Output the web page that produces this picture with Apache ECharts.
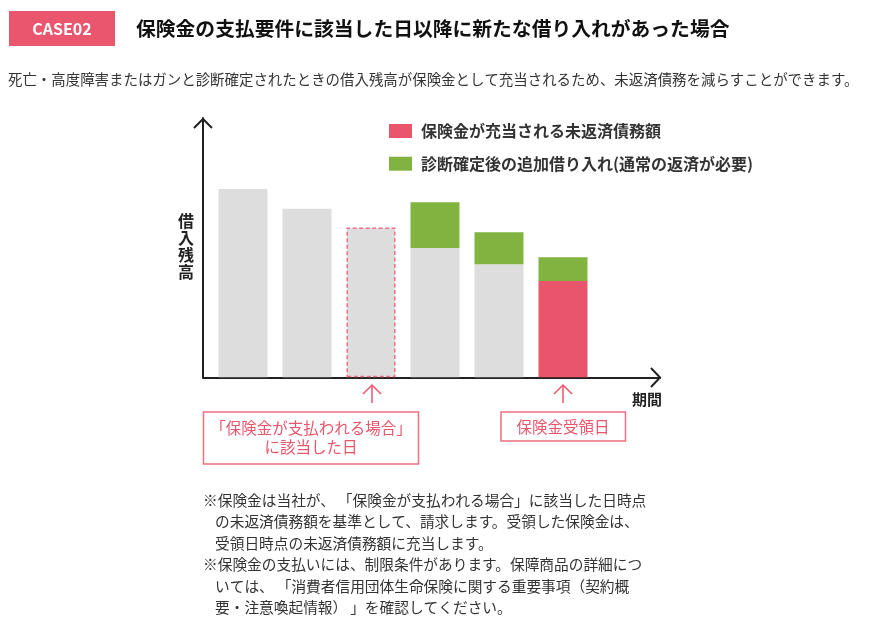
<!DOCTYPE html>
<html><head><meta charset="utf-8">
<script src="https://cdn.jsdelivr.net/npm/echarts@6/dist/echarts.min.js"></script>
<style>html,body{margin:0;padding:0;background:#fff}#c{width:885px;height:629px}</style>
</head><body><div id="c"></div>
<script>
// ---- data ----
const periods = ['1', '2', '3', '4', '5', '6'];
const balance = [72.6, 65.0, 57.8, 49.9, 43.6, 0];      // 借入残高 (gray)
const covered = [0, 0, 0, 0, 0, 37.1];                  // 保険金が充当される未返済債務額
const additional = [0, 0, 0, 17.6, 12.3, 9.2];          // 診断確定後の追加借り入れ
const legendNames = ['保険金が充当される未返済債務額', '診断確定後の追加借り入れ(通常の返済が必要)'];
const dashedIndex = 2; // 「保険金が支払われる場合」に該当した日

const FONT = '"Noto Sans CJK JP", "Noto Sans", sans-serif';
const PINK = '#e9566c';
const GREEN = '#82b341';
const GRAY = '#dddddd';

const chart = echarts.init(document.getElementById('c'), null, {renderer: 'canvas'});

const grayData = balance.map((v, i) => {
  const d = {value: v};
  if (i === dashedIndex) d.itemStyle = {borderColor: '#ef6f80', borderWidth: 1.5, borderType: [4, 2.5]};
  return d;
});

const noteLines = [
  {x: 203, y: 500, t: '※保険金は当社が、\u2009「保険金が支払われる場合」に該当した日時点'},
  {x: 215, y: 521.5, t: 'の未返済債務額を基準として、請求します。受領した保険金は、'},
  {x: 215, y: 543, t: '受領日時点の未返済債務額に充当します。'},
  {x: 203, y: 564.5, t: '※保険金の支払いには、制限条件があります。保障商品の詳細につ'},
  {x: 215, y: 586, t: 'いては、\u2009「消費者信用団体生命保険に関する重要事項（契約概'},
  {x: 215, y: 607, t: '要・注意喚起情報）\u2009」を確認してください。'}
];

const graphics = [
  {type: 'rect', shape: {x: 9, y: 11, width: 106, height: 35}, style: {fill: '#e9566e'}},
  {type: 'text', x: 62, y: 28.5, style: {text: 'CASE02', fill: '#fff', font: 'bold 16px ' + FONT, textAlign: 'center', textVerticalAlign: 'middle'}},
  {type: 'text', x: 136, y: 28, style: {text: '保険金の支払要件に該当した日以降に新たな借り入れがあった場合', fill: '#111', font: 'bold 19.8px ' + FONT, textVerticalAlign: 'middle'}},
  {type: 'text', x: 8, y: 80, style: {text: '死亡・高度障害またはガンと診断確定されたときの借入残高が保険金として充当されるため、未返済債務を減らすことができます。', fill: '#333', font: '14.45px ' + FONT, textVerticalAlign: 'middle'}},
  // axis arrow heads
  {type: 'polyline', shape: {points: [[194, 128], [203, 119], [212, 128]]}, style: {stroke: '#222', lineWidth: 2, fill: null}},
  {type: 'polyline', shape: {points: [[651, 368], [660, 377.5], [651, 387]]}, style: {stroke: '#222', lineWidth: 2, fill: null}},
  // axis titles
  {type: 'text', x: 186, y: 246, style: {text: '借\n入\n残\n高', fill: '#222', font: 'bold 16px ' + FONT, lineHeight: 17, textAlign: 'center', textVerticalAlign: 'middle'}},
  {type: 'text', x: 647, y: 399, style: {text: '期間', fill: '#222', font: 'bold 15px ' + FONT, textAlign: 'center', textVerticalAlign: 'middle'}},
  // annotation arrows
  {type: 'polyline', shape: {points: [[363, 394], [372, 385], [381, 394]]}, style: {stroke: PINK, lineWidth: 1.5, fill: null}},
  {type: 'line', shape: {x1: 372, y1: 385, x2: 372, y2: 403}, style: {stroke: PINK, lineWidth: 1.5}},
  {type: 'polyline', shape: {points: [[554, 394], [563, 385], [572, 394]]}, style: {stroke: PINK, lineWidth: 1.5, fill: null}},
  {type: 'line', shape: {x1: 563, y1: 385, x2: 563, y2: 403}, style: {stroke: PINK, lineWidth: 1.5}},
  // annotation boxes
  {type: 'rect', shape: {x: 203.5, y: 412, width: 215, height: 52}, style: {fill: null, stroke: '#ef6f80', lineWidth: 1.5}},
  {type: 'text', x: 311, y: 438, style: {text: '「保険金が支払われる場合」\nに該当した日', fill: PINK, font: '15.5px ' + FONT, lineHeight: 19, textAlign: 'center', textVerticalAlign: 'middle'}},
  {type: 'rect', shape: {x: 501, y: 412, width: 124.5, height: 29}, style: {fill: null, stroke: '#ef6f80', lineWidth: 1.5}},
  {type: 'text', x: 563, y: 427, style: {text: '保険金受領日', fill: PINK, font: '15.5px ' + FONT, textAlign: 'center', textVerticalAlign: 'middle'}}
];
noteLines.forEach(l => graphics.push({type: 'text', x: l.x, y: l.y, style: {text: l.t, fill: '#333', font: '14.7px ' + FONT, textVerticalAlign: 'middle'}}));

const hidden = {axisTick: {show: false}, axisLabel: {show: false}, splitLine: {show: false}};

chart.setOption({
  animation: false,
  textStyle: {fontFamily: FONT},
  grid: [
    {left: 211, top: 118, width: 384, height: 259.3, containLabel: false},  // bars
    {left: 203, top: 118, width: 457, height: 259.3, containLabel: false}   // axis lines
  ],
  legend: {
    data: legendNames,
    orient: 'vertical', left: 389, top: 123, padding: 0,
    itemWidth: 23, itemHeight: 14, itemGap: 16.7,
    icon: 'rect', selectedMode: false,
    textStyle: {fontSize: 16, color: '#333', fontWeight: 'bold', lineHeight: 16, padding: [0, 0, 0, 4], fontFamily: FONT}
  },
  xAxis: [
    Object.assign({type: 'category', gridIndex: 0, data: periods, axisLine: {show: false}}, hidden),
    Object.assign({type: 'value', gridIndex: 1, min: 0, max: 1, axisLine: {show: true, onZero: false, lineStyle: {color: '#222', width: 2}}}, hidden)
  ],
  yAxis: [
    Object.assign({type: 'value', gridIndex: 0, min: 0, max: 100, axisLine: {show: false}}, hidden),
    Object.assign({type: 'value', gridIndex: 1, min: 0, max: 1, axisLine: {show: true, onZero: false, lineStyle: {color: '#222', width: 2}}}, hidden)
  ],
  series: [
    {name: '借入残高', type: 'bar', stack: 's', barWidth: 49, data: grayData, itemStyle: {color: GRAY}},
    {name: legendNames[0], type: 'bar', stack: 's', barWidth: 49, data: covered, itemStyle: {color: PINK}},
    {name: legendNames[1], type: 'bar', stack: 's', barWidth: 49, data: additional, itemStyle: {color: GREEN}}
  ],
  graphic: graphics
});
</script></body></html>
